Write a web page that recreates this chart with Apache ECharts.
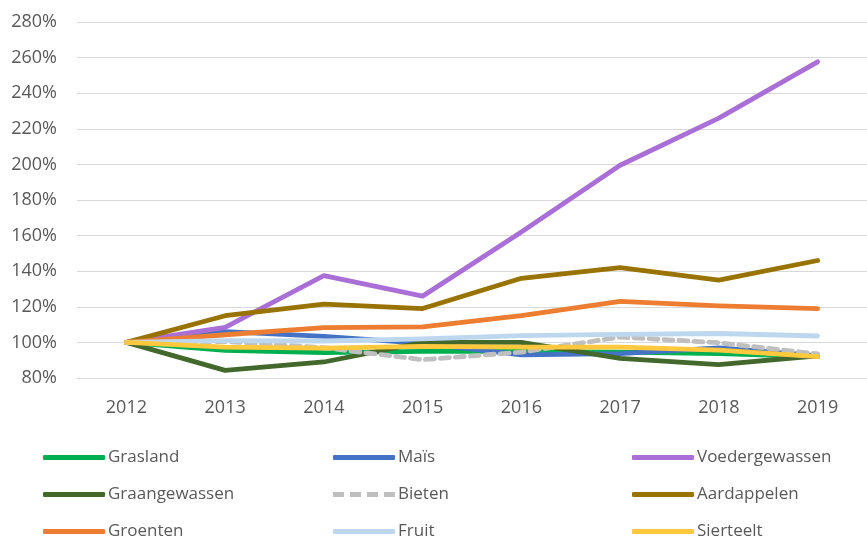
<!DOCTYPE html>
<html>
<head>
<meta charset="utf-8">
<script src="https://cdn.jsdelivr.net/npm/echarts@6/dist/echarts.min.js"></script>
<style>
  html, body { margin: 0; padding: 0; background: #fff; }
  #chart { width: 867px; height: 539px; }
</style>
</head>
<body>
<div id="chart"></div>
<script>
;(function(){
	'use strict';

	// jaren
	var years = ['2012', '2013', '2014', '2015', '2016', '2017', '2018', '2019'];

	// index t.o.v. 2012 (in %)
	var grasland       = [100, 95.5, 94.2, 95, 95, 94.5, 93.7, 92];
	var mais           = [100, 106, 103.4, 99.5, 93, 93.7, 96.9, 92.5];
	var voedergewassen = [100, 108.5, 137.5, 126, 162, 199.5, 226, 257.6];
	var graangewassen  = [100, 84.3, 89, 100, 100, 91, 87.5, 92.5];
	var bieten         = [100, 100.5, 97, 90.3, 94.5, 103, 99.8, 93.5];
	var aardappelen    = [100, 115, 121.5, 119, 136, 142, 135, 146];
	var groenten       = [100, 104.3, 108.3, 108.7, 115, 123, 120.5, 119];
	var fruit          = [100, 101, 100.8, 102, 103.8, 104.5, 105, 103.6];
	var sierteelt      = [100, 97.3, 96.8, 97.8, 97.4, 97.4, 95.7, 92];

	var yTicks = [80, 280, 20]; // min, max, stap

	var series = [
		{ name: 'Grasland',       data: grasland,       color: '#00B050' },
		{ name: 'Maïs',           data: mais,           color: '#4472C4' },
		{ name: 'Voedergewassen', data: voedergewassen, color: '#A96FD6' },
		{ name: 'Graangewassen',  data: graangewassen,  color: '#43682B' },
		{ name: 'Bieten',         data: bieten,         color: '#BFBFBF', dashed: true },
		{ name: 'Aardappelen',    data: aardappelen,    color: '#997300' },
		{ name: 'Groenten',       data: groenten,       color: '#ED7D31' },
		{ name: 'Fruit',          data: fruit,          color: '#BDD7EE' },
		{ name: 'Sierteelt',      data: sierteelt,      color: '#FFC83D' }
	];

	var font = 'Open Sans';
	var textColor = '#595959';

	// legend-iconen: doorgetrokken of gestreept streepje
	var solidIcon = 'roundRect';
	var dashIcon = 'path://M0,0h11v5h-11z M17,0h11v5h-11z M34,0h11v5h-11z M51,0h11v5h-11z';

	// legenda in 3 kolommen x 3 rijen, één legend per item
	var colLeft = [43, 333, 632];
	var rowTop = [449, 486, 523];

	var legends = series.map(function(s, i){
		return {
			left: colLeft[i % 3],
			top: rowTop[Math.floor(i / 3)],
			padding: 0,
			data: [{ name: s.name, icon: s.dashed ? dashIcon : solidIcon }],
			itemWidth: 62,
			itemHeight: 5,
			textStyle: { color: textColor, fontSize: 17, fontFamily: font, padding: [0, 0, 0, -2] },
			selectedMode: false
		};
	});

	var option = {
		animation: false,
		backgroundColor: '#fff',
		grid: { left: 77, top: 22, width: 802, bottom: 161, containLabel: false },
		legend: legends,
		xAxis: {
			type: 'category',
			data: years,
			boundaryGap: true,
			axisLine: { show: true, lineStyle: { color: '#D9D9D9', width: 1 } },
			axisTick: { show: false },
			axisLabel: { color: textColor, fontSize: 18, fontFamily: font, margin: 21 }
		},
		yAxis: {
			type: 'value',
			min: yTicks[0],
			max: yTicks[1],
			interval: yTicks[2],
			axisLine: { show: false },
			axisTick: { show: false },
			splitLine: { lineStyle: { color: '#D9D9D9', width: 1 } },
			axisLabel: {
				color: textColor, fontSize: 18, fontFamily: font, margin: 20,
				formatter: function(v){ return v + '%'; }
			}
		},
		series: series.map(function(s){
			return {
				name: s.name,
				type: 'line',
				data: s.data,
				symbol: 'none',
				showSymbol: false,
				color: s.color,
				itemStyle: { color: s.color },
				lineStyle: {
					color: s.color,
					width: 4.8,
					type: s.dashed ? [9, 6] : 'solid',
					cap: 'round',
					join: 'round'
				}
			};
		})
	};

	var myChart = echarts.init(document.getElementById('chart'), null, { renderer: 'canvas' });
	myChart.setOption(option);
})();
</script>
</body>
</html>
